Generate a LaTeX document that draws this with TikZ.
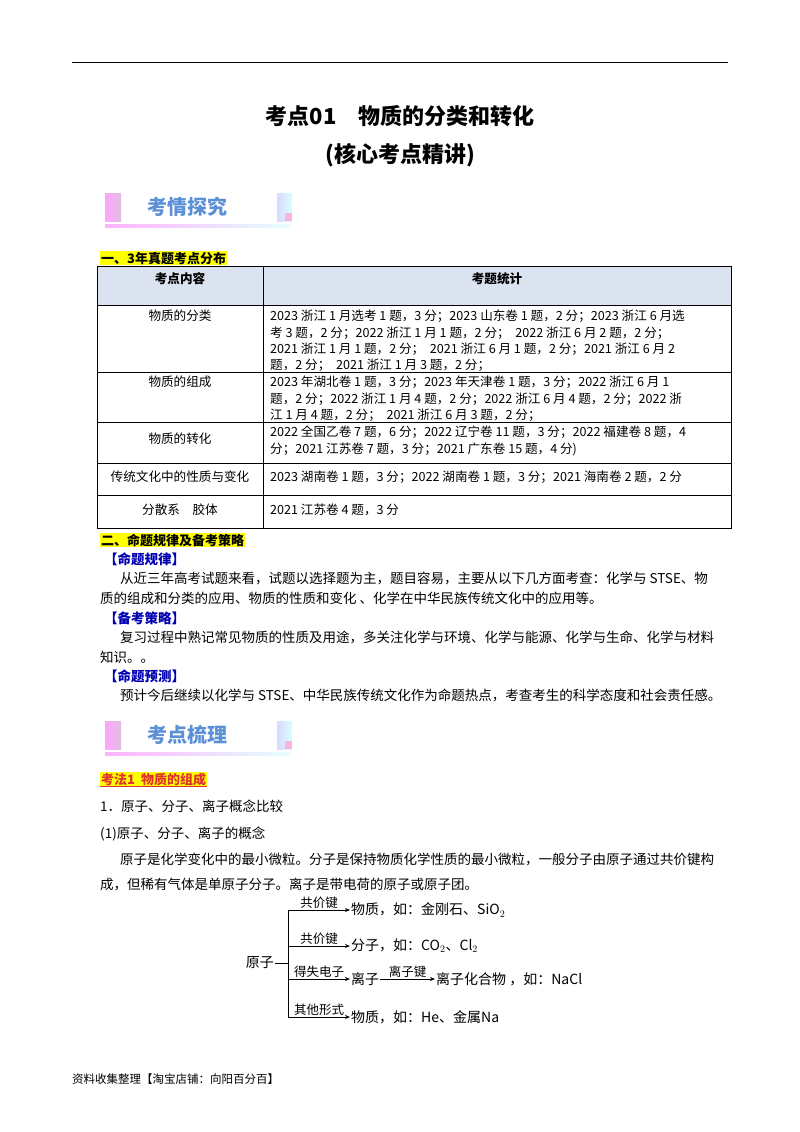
\documentclass[tikz,border=0pt]{standalone}
\usepackage{fontspec}
\setmainfont{Noto Sans CJK SC}
\usetikzlibrary{arrows.meta}
\definecolor{hl}{HTML}{FFFF00}
\definecolor{bluet}{HTML}{5B8FD6}
\definecolor{tblhead}{HTML}{DCE3F0}
\definecolor{kred}{HTML}{E03030}
\tikzset{
 txt/.style={anchor=base west,inner sep=0pt,font=\fontsize{13.5}{16}\selectfont},
 tb/.style={anchor=base west,inner sep=0pt,font=\fontsize{12.6}{14}\selectfont},
 tbc/.style={anchor=base,inner sep=0pt,font=\fontsize{12.6}{14}\selectfont},
 bluelab/.style={anchor=base west,inner sep=0pt,font=\fontsize{13.5}{16}\selectfont\bfseries,text=blue!70!black},
 yl/.style={anchor=base west,inner sep=1pt,fill=hl,font=\fontsize{13}{16}\selectfont\bfseries},
 arr/.style={-{Stealth[length=5pt,width=4pt]},line width=0.8pt},
 dg/.style={anchor=west,inner sep=1pt,font=\fontsize{14}{16}\selectfont},
 dl/.style={anchor=south,inner sep=1pt,font=\fontsize{12.5}{13}\selectfont},
}
\newcommand{\banner}[3]{%
 \fill[left color=magenta!35,right color=violet!25] (#1,#2) rectangle ++(16,28);
 \fill[left color=blue!15,right color=cyan!15] (#1+172,#2) rectangle ++(15,28);
 \fill[magenta!30] (#1+180,#2+20) rectangle ++(7,8);
 \fill[left color=magenta!30,right color=cyan!10] (#1,#2+31) rectangle ++(185,3);
 \node[anchor=west,inner sep=0pt,text=bluet,font=\fontsize{20}{22}\selectfont\bfseries] (#3) at (#1+42,#2+14) {#3};}
\begin{document}
\begin{tikzpicture}[x=1pt,y=-1pt]
\useasboundingbox[fill=white] (0,0) rectangle (800,1132);
\draw[line width=1pt] (72,63) coordinate (tl) -- (728,63) coordinate (tr);
\node[anchor=base,font=\fontsize{22}{24}\selectfont\bfseries] (t1) at (400,124) {考点01\quad 物质的分类和转化};
\node[anchor=base,font=\fontsize{22}{24}\selectfont\bfseries] (t2) at (400,162) {(核心考点精讲)};
\banner{105}{193}{考情探究}
\node[yl] (s1) at (100,263) {一、3年真题考点分布};
% table
\fill[tblhead] (97,266) rectangle (731,305);
\draw[line width=0.8pt] (97,266) rectangle (731,528);
\foreach \y in {305,372,422,463,495} \draw[line width=0.6pt] (97,\y) -- (731,\y);
\draw[line width=0.6pt] (263,266) -- (263,528);
\node[tbc,font=\fontsize{12.6}{14}\selectfont\bfseries] (h1) at (180,283) {考点内容};
\node[tbc,font=\fontsize{12.6}{14}\selectfont\bfseries] (h2) at (497,283) {考题统计};
\node[tbc] (c1) at (180,320) {物质的分类};
\node[tbc] (c2) at (180,386) {物质的组成};
\node[tbc] (c3) at (180,443) {物质的转化};
\node[tbc] (c4) at (180,481) {传统文化中的性质与变化};
\node[tbc] (c5) at (180,514) {分散系\quad 胶体};
\node[tb] (r1a) at (270,320) {2023 浙江 1 月选考 1 题，3 分；2023 山东卷 1 题，2 分；2023 浙江 6 月选};
\node[tb] (r1b) at (270,337) {考 3 题，2 分；2022 浙江 1 月 1 题，2 分；\ \ 2022 浙江 6 月 2 题，2 分；};
\node[tb] (r1c) at (270,353) {2021 浙江 1 月 1 题，2 分；\ \ 2021 浙江 6 月 1 题，2 分；2021 浙江 6 月 2};
\node[tb] (r1d) at (270,369) {题，2 分；\ \ 2021 浙江 1 月 3 题，2 分；};
\node[tb] (r2a) at (270,386) {2023 年湖北卷 1 题，3 分；2023 年天津卷 1 题，3 分；2022 浙江 6 月 1};
\node[tb] (r2b) at (270,403) {题，2 分；2022 浙江 1 月 4 题，2 分；2022 浙江 6 月 4 题，2 分；2022 浙};
\node[tb] (r2c) at (270,419) {江 1 月 4 题，2 分；\ \ 2021 浙江 6 月 3 题，2 分；};
\node[tb] (r3a) at (270,436) {2022 全国乙卷 7 题，6 分；2022 辽宁卷 11 题，3 分；2022 福建卷 8 题，4};
\node[tb] (r3b) at (270,453) {分；2021 江苏卷 7 题，3 分；2021 广东卷 15 题，4 分)};
\node[tb] (r4) at (270,481) {2023 湖南卷 1 题，3 分；2022 湖南卷 1 题，3 分；2021 海南卷 2 题，2 分};
\node[tb] (r5) at (270,514) {2021 江苏卷 4 题，3 分};
% section 2
\node[yl] (s2) at (100,545) {二、命题规律及备考策略};
\node[bluelab] (b1) at (104,564) {【命题规律】};
\node[txt] (p1) at (120,583) {从近三年高考试题来看，试题以选择题为主，题目容易，主要从以下几方面考查：化学与 STSE、物};
\node[txt] (p2) at (100,603) {质的组成和分类的应用、物质的性质和变化\ 、化学在中华民族传统文化中的应用等。};
\node[bluelab] (b2) at (104,623) {【备考策略】};
\node[txt] (p3) at (120,642) {复习过程中熟记常见物质的性质及用途，多关注化学与环境、化学与能源、化学与生命、化学与材料};
\node[txt] (p4) at (100,662) {知识。。};
\node[bluelab] (b3) at (104,681) {【命题预测】};
\node[txt] (p5) at (120,700) {预计今后继续以化学与 STSE、中华民族传统文化作为命题热点，考查考生的科学态度和社会责任感。};
\banner{105}{721}{考点梳理}
\node[yl,text=kred] (s3) at (100,784) {考法1\ \ 物质的组成};
\draw[kred,line width=0.6pt] (s3.south west) -- (s3.south east);
\node[txt] (q1) at (100,811) {1．原子、分子、离子概念比较};
\node[txt] (q2) at (100,838) {(1)原子、分子、离子的概念};
\node[txt] (q3) at (120,864) {原子是化学变化中的最小微粒。分子是保持物质化学性质的最小微粒，一般分子由原子通过共价键构};
\node[txt] (q4) at (100,889) {成，但稀有气体是单原子分子。离子是带电荷的原子或原子团。};
% diagram
\node[dg,anchor=east] (yz) at (275,963) {原子};
\coordinate (j) at (288,963);
\draw[line width=0.8pt] (yz.east) -- (j);
\draw[line width=0.8pt] (288,910) coordinate (t1a) -- (288,1017) coordinate (t4a);
\coordinate (t2a) at (288,946); \coordinate (t3a) at (288,979);
\node[dg] (m1) at (350,910) {物质，如：金刚石、SiO$_2$};
\node[dg] (m2) at (350,946) {分子，如：CO$_2$、Cl$_2$};
\node[dg] (m3) at (350,979) {离子};
\node[dg] (m5) at (435,979) {离子化合物 ，如：NaCl};
\node[dg] (m4) at (350,1017) {物质，如：He、金属Na};
\draw[arr] (t1a) -- node[dl] {共价键} (m1.west);
\draw[arr] (t2a) -- node[dl] {共价键} (m2.west);
\draw[arr] (t3a) -- node[dl] {得失电子} (m3.west);
\draw[arr] (t4a) -- node[dl] {其他形式} (m4.west);
\draw[arr] (m3.east) -- node[dl] {离子键} (m5.west);
\node[anchor=base west,inner sep=0pt,font=\fontsize{11.5}{14}\selectfont] (ft) at (72,1083) {资料收集整理【淘宝店铺：向阳百分百】};
\end{tikzpicture}
\end{document}
